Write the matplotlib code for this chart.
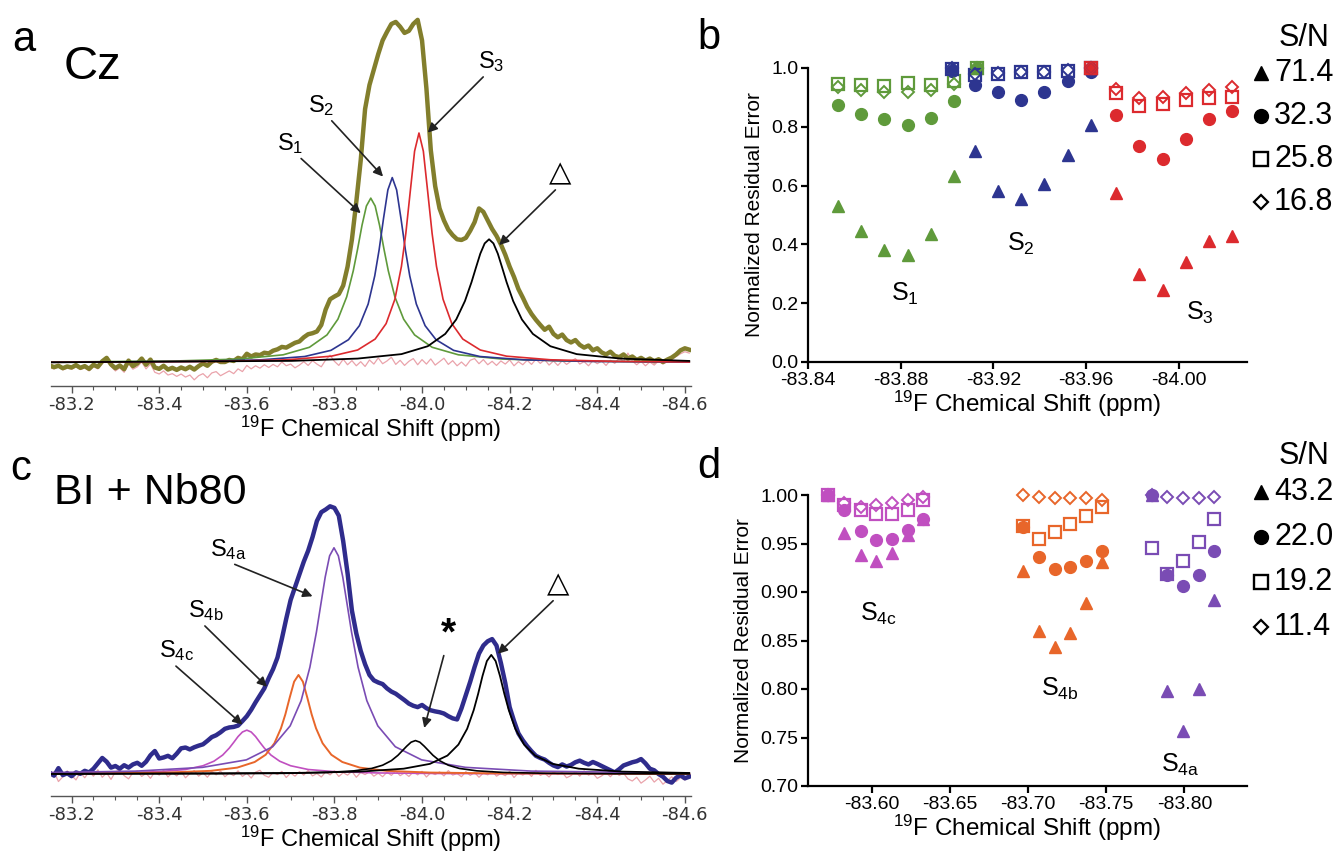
import numpy as np
import matplotlib
matplotlib.use('Agg')
import matplotlib.pyplot as plt
from matplotlib.lines import Line2D

plt.rcParams['font.family'] = ['Liberation Sans', 'DejaVu Sans']
plt.rcParams['mathtext.fontset'] = 'custom'
plt.rcParams['mathtext.rm'] = 'Liberation Sans'
plt.rcParams['mathtext.it'] = 'Liberation Sans:italic'
plt.rcParams['mathtext.bf'] = 'Liberation Sans:bold'

# ---------------- spectra (panels a, c): sampled every 0.01 ppm ----------------
ppm_start, ppm_end, n_pts = -83.15, -84.61, 147

cz_exp = [
    -0.8, -1.3, -0.9, -1.6, -1.1, -1.4, -0.7, -1.5, -1.0, -1.8,
    -0.6, -1.2, 0.4, 1.4, -0.5, -1.6, -0.8, -1.9, 0.6, -1.0,
    -0.2, 1.2, -0.6, 0.9, -1.4, -1.8, -0.9, -2.0, -1.5, -2.1,
    -1.4, -1.9, -1.2, -2.0, -1.0, -0.2, -0.9, 0.3, 0.8, 0.2,
    0.2, 0.8, 0.5, 1.4, 1.0, 2.6, 1.8, 2.4, 2.2, 2.9,
    2.7, 3.5, 3.9, 4.6, 4.4, 5.1, 5.8, 6.2, 7.4, 8.3,
    8.6, 9.1, 11.0, 15.5, 18.5, 19.3, 20.0, 22.5, 28.0, 36.0,
    47.0, 59.0, 74.0, 81.0, 85.5, 90.0, 94.0, 96.5, 98.8, 99.4,
    98.0, 96.2, 96.8, 98.8, 100.0, 94.0, 80.0, 62.0, 51.5, 45.0,
    41.5, 38.8, 37.2, 36.0, 35.8, 36.4, 38.5, 41.0, 45.0, 44.0,
    41.5, 39.0, 37.0, 34.5, 31.5, 28.0, 25.0, 21.5, 19.0, 16.3,
    14.2, 12.5, 11.0, 9.6, 10.5, 8.4, 7.4, 8.2, 6.6, 5.9,
    6.6, 5.2, 4.4, 5.0, 3.6, 4.2, 3.0, 2.4, 3.2, 2.0,
    1.6, 2.4, 1.2, 1.8, 0.8, 1.4, 0.6, 1.2, 0.4, 1.0,
    0.2, 0.9, 1.5, 2.4, 3.6, 4.2, 3.8]

cz_resid = [
    -1.5, -1.8, -1.2, -2.1, -1.6, -1.9, -1.2, -2.0, -1.5, -2.4,
    -1.1, -1.8, -0.2, 0.8, -1.1, -2.4, -1.5, -2.8, -0.3, -1.9,
    -1.2, 0.2, -1.8, -0.4, -2.8, -3.3, -2.4, -3.6, -3.2, -4.0,
    -3.3, -4.2, -3.6, -5.0, -3.8, -3.2, -4.4, -3.0, -2.6, -3.8,
    -3.1, -2.4, -3.2, -1.8, -2.6, -0.8, -1.8, -0.9, -1.6, -0.6,
    -1.4, -0.5, -1.2, 0.2, -0.9, -0.4, -1.5, -0.7, 0.3, -0.8,
    0.6, -0.4, -1.2, 0.8, 2.2, 0.4, -0.8, 1.0, -0.6, 0.6,
    -0.9, 0.3, -1.1, 0.8, -0.4, 1.4, -0.3, 0.5, 1.6, -0.5,
    0.7, -0.8, 0.4, 1.2, -0.6, 0.9, -0.4, 1.1, -0.7, 0.3,
    1.3, -0.5, 0.6, -0.9, 0.2, -1.0, 0.7, 1.2, -0.3, 0.9,
    -0.6, 0.4, -0.8, 0.5, -0.4, 0.8, -0.9, 0.3, -0.6, 0.7,
    -0.5, 1.0, -0.2, 0.9, -0.7, 0.5, -0.8, 0.6, -0.5, 0.4,
    1.2, -0.4, 0.3, -0.9, 0.6, -0.3, 0.5, -0.8, 0.7, -0.2,
    1.4, 0.3, 2.8, 0.5, -0.6, 0.4, -0.9, 0.2, -0.7, 0.5,
    -0.4, 0.3, 0.9, 1.8, 2.6, 3.2, 2.8]

bi_exp = [
    0.5, -0.6, 2.2, -0.4, 0.3, -0.8, 0.6, 0.1, 1.2, 0.6,
    2.0, 4.0, 6.0, 4.6, 2.4, 3.0, 2.0, 3.3, 2.4, 3.6,
    4.2, 3.1, 4.6, 7.0, 8.6, 5.8, 6.2, 6.8, 5.9, 7.6,
    9.6, 9.9, 9.2, 10.0, 10.6, 11.1, 12.4, 13.8, 14.5, 15.6,
    16.9, 17.4, 17.6, 18.1, 19.8, 21.6, 24.0, 26.8, 29.4, 32.0,
    35.8, 39.2, 43.5, 50.5, 58.0, 65.0, 69.8, 74.5, 79.3, 83.4,
    88.5, 94.5, 97.8, 98.8, 100.0, 99.4, 96.5, 87.0, 75.0, 61.0,
    52.5, 46.0, 41.0, 37.0, 35.0, 34.2, 33.6, 32.0, 30.8, 30.0,
    28.8, 27.6, 26.3, 25.5, 25.0, 25.8, 24.6, 23.8, 23.4, 23.1,
    22.6, 21.6, 20.8, 20.4, 24.5, 29.5, 34.5, 40.0, 45.0, 48.0,
    49.6, 50.4, 48.0, 41.5, 34.0, 25.0, 19.8, 15.2, 12.6, 10.4,
    8.5, 6.8, 6.0, 5.4, 4.2, 3.2, 2.6, 3.6, 2.8, 3.4,
    4.4, 5.0, 4.2, 3.6, 4.5, 3.8, 3.0, 2.2, 1.4, 0.6,
    1.8, 3.2, 3.8, 4.4, 4.8, 5.6, 4.0, 2.0, 1.4, 0.0,
    -1.0, -2.6, -3.2, -1.4, -0.4, -1.6, -1.0]

bi_resid = [
    -1.5, 0.8, -2.8, -1.0, 1.2, -0.5, -2.2, 0.6, -1.4, 0.9,
    -0.8, 1.6, -1.2, 0.4, -2.0, 0.8, 1.5, -0.6, -1.8, 0.5,
    1.2, -0.9, 0.3, -1.6, 0.8, -0.4, 1.4, -1.1, 0.6, -0.7,
    1.0, -1.4, 0.2, 1.3, -0.8, 0.5, -1.2, 0.9, -0.3, 1.1,
    -1.0, 0.4, -0.6, 1.2, -0.9, 0.3, -1.5, 0.7, 1.4, -0.5,
    -1.2, 0.6, -0.2, 1.0, -1.3, 0.4, -0.8, 0.9, -0.4, 1.3,
    -0.7, 0.2, -1.1, 0.8, -0.3, 1.2, -0.9, 0.5, -0.4, 1.0,
    -1.2, 0.6, -0.2, 0.9, -0.8, 0.3, -1.0, 0.7, -0.5, 1.1,
    -0.6, 0.4, -0.9, 0.8, -0.3, 1.0, -1.1, 0.5, -0.2, 0.8,
    -0.7, 1.3, -0.4, 0.2, -1.0, 0.9, -0.5, 0.6, -1.2, 0.4,
    -0.3, 1.1, -0.8, 0.2, -0.6, 1.0, -1.3, 0.5, -0.4, 0.7,
    -0.9, 1.4, -0.5, 0.3, -1.1, 0.8, -0.2, 0.6, -1.4, -0.6,
    0.9, -0.8, 1.2, -0.4, 0.3, -1.6, -0.7, 0.5, -1.0, 0.8,
    -0.5, 0.3, -1.8, -2.6, -1.2, -3.4, -2.2, -0.8, -3.0, -1.6,
    -3.8, -2.4, -1.0, -2.8, -1.4, -2.2, -1.0]

# fitted components (read at chosen ppm positions)
s1_x = [-83.15, -83.433, -83.583, -83.683, -83.743, -83.783, -83.808, -83.828, -83.843, -83.853, -83.863, -83.873,
        -83.883, -83.893, -83.903, -83.913, -83.923, -83.938, -83.958, -83.983, -84.023, -84.083, -84.183, -84.333, -84.61]
s1_y = [0.18, 0.48, 1.06, 2.3, 4.5, 8.1, 12.7, 19.2, 26.8, 33.2, 40.1, 45.7,
        48.0, 45.7, 40.1, 33.2, 26.8, 19.2, 12.7, 8.1, 4.5, 2.3, 1.06, 0.48, 0.18]
s2_x = [-83.15, -83.482, -83.632, -83.732, -83.792, -83.832, -83.857, -83.877, -83.892, -83.902, -83.912, -83.922,
        -83.932, -83.942, -83.952, -83.962, -83.972, -83.987, -84.007, -84.032, -84.072, -84.132, -84.232, -84.382, -84.61]
s2_y = [0.12, 0.37, 0.83, 1.8, 3.6, 6.7, 10.8, 17.1, 25.3, 32.9, 42.0, 50.4,
        54.0, 50.4, 42.0, 32.9, 25.3, 17.1, 10.8, 6.7, 3.6, 1.8, 0.83, 0.37, 0.16]
s3_x = [-83.15, -83.543, -83.693, -83.793, -83.853, -83.893, -83.918, -83.938, -83.953, -83.963, -83.973, -83.983,
        -83.993, -84.003, -84.013, -84.023, -84.033, -84.048, -84.068, -84.093, -84.133, -84.193, -84.293, -84.443, -84.61]
s3_y = [0.11, 0.38, 0.85, 1.9, 3.7, 6.9, 11.4, 18.5, 28.1, 37.7, 49.8, 61.7,
        67.0, 61.7, 49.8, 37.7, 28.1, 18.5, 11.4, 6.9, 3.7, 1.9, 0.85, 0.38, 0.2]
da_x = [-83.15, -83.703, -83.853, -83.953, -84.013, -84.053, -84.078, -84.098, -84.113, -84.123, -84.133, -84.143,
        -84.153, -84.163, -84.173, -84.183, -84.193, -84.208, -84.228, -84.253, -84.293, -84.353, -84.453, -84.61]
da_y = [0.11, 0.53, 1.2, 2.5, 4.8, 8.4, 12.6, 18.0, 23.5, 27.7, 31.8, 34.8,
        36.0, 34.8, 31.8, 27.7, 23.5, 18.0, 12.6, 8.4, 4.8, 2.5, 1.2, 0.51]

s4a_x = [-83.15, -83.349, -83.499, -83.599, -83.659, -83.699, -83.724, -83.744, -83.759, -83.769, -83.779, -83.789,
         -83.799, -83.809, -83.819, -83.829, -83.839, -83.854, -83.874, -83.899, -83.939, -83.999, -84.099, -84.249, -84.61]
s4a_y = [0.54, 1.1, 2.5, 5.3, 10.2, 18.0, 27.4, 39.9, 53.1, 63.4, 73.6, 81.5,
         84.5, 81.5, 73.6, 63.4, 53.1, 39.9, 27.4, 18.0, 10.2, 5.3, 2.5, 1.1, 0.35]
s4b_x = [-83.15, -83.268, -83.418, -83.518, -83.578, -83.618, -83.643, -83.663, -83.678, -83.688, -83.698, -83.708,
         -83.718, -83.728, -83.738, -83.748, -83.758, -83.773, -83.793, -83.818, -83.858, -83.918, -84.018, -84.168, -84.61]
s4b_y = [0.16, 0.25, 0.55, 1.2, 2.4, 4.5, 7.2, 11.5, 17.1, 22.3, 28.6, 34.5,
         37.0, 34.5, 28.6, 22.3, 17.1, 11.5, 7.2, 4.5, 2.4, 1.2, 0.55, 0.25, 0.06]
s4c_x = [-83.15, -83.30, -83.40, -83.46, -83.50, -83.525, -83.545, -83.56, -83.57, -83.58, -83.59,
         -83.60, -83.61, -83.62, -83.63, -83.64, -83.655, -83.675, -83.70, -83.74, -83.80, -83.90, -84.05, -84.61]
s4c_y = [0.19, 0.41, 0.9, 1.7, 3.1, 4.8, 7.1, 9.7, 11.8, 14.0, 15.7,
         16.4, 15.7, 14.0, 11.8, 9.7, 7.1, 4.8, 3.1, 1.7, 0.9, 0.41, 0.19, 0.04]
star_x = [-83.15, -83.535, -83.685, -83.785, -83.845, -83.885, -83.91, -83.93, -83.945, -83.955, -83.965, -83.975,
          -83.985, -83.995, -84.005, -84.015, -84.025, -84.04, -84.06, -84.085, -84.125, -84.185, -84.285, -84.435, -84.61]
star_y = [0.04, 0.12, 0.27, 0.6, 1.2, 2.1, 3.3, 5.0, 7.0, 8.7, 10.4, 11.9,
          12.5, 11.9, 10.4, 8.7, 7.0, 5.0, 3.3, 2.1, 1.2, 0.6, 0.27, 0.12, 0.06]
dc_x = [-83.15, -83.708, -83.858, -83.958, -84.018, -84.058, -84.083, -84.103, -84.118, -84.128, -84.138, -84.148,
        -84.158, -84.168, -84.178, -84.188, -84.198, -84.213, -84.233, -84.258, -84.298, -84.358, -84.458, -84.61]
dc_y = [0.08, 0.4, 0.9, 2.0, 3.8, 6.9, 11.0, 16.9, 23.9, 29.9, 36.6, 42.2,
        44.5, 42.2, 36.6, 29.9, 23.9, 16.9, 11.0, 6.9, 3.8, 2.0, 0.9, 0.4]

# ---------------- residual error (panel b) ----------------
snr_b = ['71.4', '32.3', '25.8', '16.8']
b_s1_x = [-83.853, -83.863, -83.873, -83.883, -83.893, -83.903, -83.913]
b_s1_tri = [0.532, 0.447, 0.381, 0.364, 0.434, 0.631, 1.0]
b_s1_cir = [0.875, 0.845, 0.826, 0.806, 0.831, 0.889, 1.0]
b_s1_sq = [0.944, 0.942, 0.940, 0.950, 0.942, 0.956, 1.0]
b_s1_dia = [0.934, 0.925, 0.917, 0.920, 0.925, 0.944, 1.0]

b_s2_x = [-83.902, -83.912, -83.922, -83.932, -83.942, -83.952, -83.962]
b_s2_tri = [1.0, 0.718, 0.582, 0.555, 0.607, 0.703, 0.807]
b_s2_cir = [0.99, 0.943, 0.917, 0.892, 0.920, 0.955, 0.985]
b_s2_sq = [0.995, 0.975, 0.980, 0.985, 0.985, 0.990, 1.0]
b_s2_dia = [1.0, 0.978, 0.982, 0.987, 0.987, 0.992, 1.0]

b_s3_x = [-83.962, -83.973, -83.983, -83.993, -84.003, -84.013, -84.023]
b_s3_tri = [1.0, 0.574, 0.299, 0.244, 0.341, 0.413, 0.429]
b_s3_cir = [1.0, 0.841, 0.733, 0.691, 0.759, 0.825, 0.855]
b_s3_sq = [1.0, 0.914, 0.870, 0.876, 0.891, 0.897, 0.902]
b_s3_dia = [1.0, 0.928, 0.898, 0.902, 0.915, 0.925, 0.936]

# ---------------- residual error (panel d) ----------------
snr_d = ['43.2', '22.0', '19.2', '11.4']
d_s4c_x = [-83.572, -83.582, -83.593, -83.603, -83.613, -83.623, -83.633]
d_s4c_tri = [1.0, 0.961, 0.938, 0.9315, 0.9405, 0.959, 0.975]
d_s4c_cir = [1.0, 0.985, 0.963, 0.954, 0.955, 0.964, 0.975]
d_s4c_sq = [1.0, 0.990, 0.985, 0.980, 0.980, 0.985, 0.995]
d_s4c_dia = [1.0, 0.992, 0.988, 0.990, 0.992, 0.995, 0.998]

d_s4b_x = [-83.697, -83.707, -83.717, -83.727, -83.737, -83.747]
d_s4b_tri = [0.9215, 0.860, 0.8435, 0.858, 0.889, 0.9307]
d_s4b_cir = [0.967, 0.9358, 0.9242, 0.9256, 0.9324, 0.942]
d_s4b_sq = [0.968, 0.955, 0.962, 0.970, 0.978, 0.988]
d_s4b_dia = [1.0, 0.998, 0.997, 0.997, 0.997, 0.995]

d_s4a_x = [-83.779, -83.789, -83.799, -83.809, -83.819]
d_s4a_tri = [1.0, 0.798, 0.757, 0.800, 0.892]
d_s4a_cir = [1.0, 0.918, 0.906, 0.918, 0.942]
d_s4a_sq = [0.945, 0.919, 0.9317, 0.952, 0.975]
d_s4a_dia = [1.0, 0.998, 0.997, 0.997, 0.998]

# ---------------- styling ----------------
C_OLIVE = '#827e2c'
C_GREEN = '#5f9a3b'
C_BLUE = '#2d3590'
C_RED = '#dc2a2e'
C_NAVY = '#2f2c8c'
C_PURPLE = '#7a4cb4'
C_ORANGE = '#e8662a'
C_MAGENTA = '#c04fc0'
C_RESID = '#eaa3ab'
TICK_FONT = ['DejaVu Sans']

fig = plt.figure(figsize=(13.4, 8.52), dpi=100)
W, H = 1340.0, 852.0


def frac(x0, y_top, x1, y_bot):
    return [x0 / W, 1 - y_bot / H, (x1 - x0) / W, (y_bot - y_top) / H]


def spectrum_axes(rect, ylim):
    ax = fig.add_axes(rect)
    ax.set_xlim(-83.153, -84.614)
    ax.set_ylim(*ylim)
    for s in ['left', 'right', 'top']:
        ax.spines[s].set_visible(False)
    ax.spines['bottom'].set_color('#555555')
    ax.spines['bottom'].set_linewidth(1.0)
    ax.set_yticks([])
    ax.set_xticks([-83.2, -83.4, -83.6, -83.8, -84.0, -84.2, -84.4, -84.6])
    ax.set_xticks(np.round(np.arange(-83.2, -84.61, -0.05), 2), minor=True)
    ax.set_xticklabels(['-83.2', '-83.4', '-83.6', '-83.8', '-84.0', '-84.2', '-84.4', '-84.6'],
                       fontsize=13, family=TICK_FONT, color='#333333')
    ax.tick_params(axis='x', which='major', length=5, width=1.0, color='#555555', pad=2)
    ax.tick_params(axis='x', which='minor', length=3, width=0.8, color='#555555')
    ax.set_xlabel('$^{19}$F Chemical Shift (ppm)', fontsize=17, labelpad=0)
    ax.patch.set_alpha(0)
    return ax


ppm = np.linspace(ppm_start, ppm_end, n_pts)

# ---- panel a ----
axa = spectrum_axes(frac(51, 0, 691, 386), (-6.8, 105.8))
axa.plot(ppm, cz_resid, color=C_RESID, lw=0.9, zorder=1)
axa.plot(ppm, cz_exp, color=C_OLIVE, lw=3.2, zorder=2, solid_joinstyle='round')
axa.plot(s1_x, s1_y, color=C_GREEN, lw=1.2, zorder=3)
axa.plot(s2_x, s2_y, color=C_BLUE, lw=1.2, zorder=3)
axa.plot(s3_x, s3_y, color=C_RED, lw=1.2, zorder=3)
axa.plot(da_x, da_y, color='black', lw=1.3, zorder=3)

arrow = dict(arrowstyle='-|>', color='#222222', lw=1.2, mutation_scale=14, shrinkA=0, shrinkB=0)
axa.annotate('S$_{\\mathrm{1}}$', xy=(-83.860, 43.6), xytext=(-83.699, 64.0), fontsize=17,
             ha='center', va='center', arrowprops=dict(arrow, relpos=(0.8, 0.0)))
axa.annotate('S$_{\\mathrm{2}}$', xy=(-83.911, 54.3), xytext=(-83.770, 75.0), fontsize=17,
             ha='center', va='center', arrowprops=dict(arrow, relpos=(0.8, 0.0)))
axa.annotate('S$_{\\mathrm{3}}$', xy=(-84.013, 67.1), xytext=(-84.158, 87.8), fontsize=17,
             ha='center', va='center', arrowprops=dict(arrow, relpos=(0.3, 0.0)))
axa.annotate('\u25B3', xy=(-84.176, 34.3), xytext=(-84.316, 55.3), fontsize=21,
             family=['DejaVu Sans'], ha='center', va='center', arrowprops=dict(arrow, relpos=(0.4, 0.0)))

# ---- panel c ----
axc = spectrum_axes(frac(51, 430, 691, 796), (-8.2, 128.5))
axc.plot(ppm, bi_resid, color=C_RESID, lw=0.9, zorder=1)
axc.plot(ppm, bi_exp, color=C_NAVY, lw=3.2, zorder=2, solid_joinstyle='round')
axc.plot(s4c_x, s4c_y, color=C_MAGENTA, lw=1.2, zorder=3)
axc.plot(s4b_x, s4b_y, color=C_ORANGE, lw=1.4, zorder=3)
axc.plot(s4a_x, s4a_y, color=C_PURPLE, lw=1.2, zorder=3)
axc.plot(star_x, star_y, color='black', lw=1.2, zorder=3)
axc.plot(dc_x, dc_y, color='black', lw=1.3, zorder=3)

axc.annotate('S$_{\\mathrm{4a}}$', xy=(-83.750, 66.4), xytext=(-83.557, 84.0), fontsize=17,
             ha='center', va='center', arrowprops=dict(arrow, relpos=(0.5, 0.0)))
axc.annotate('S$_{\\mathrm{4b}}$', xy=(-83.646, 32.6), xytext=(-83.506, 61.0), fontsize=17,
             ha='center', va='center', arrowprops=dict(arrow, relpos=(0.4, 0.0)))
axc.annotate('S$_{\\mathrm{4c}}$', xy=(-83.590, 18.5), xytext=(-83.439, 46.0), fontsize=17,
             ha='center', va='center', arrowprops=dict(arrow, relpos=(0.4, 0.0)))
axc.annotate('*', xy=(-84.005, 17.2), xytext=(-84.061, 52.0), fontsize=28, fontweight='bold',
             ha='center', va='center', arrowprops=dict(arrow, relpos=(0.35, 0.2)))
axc.annotate('\u25B3', xy=(-84.173, 44.9), xytext=(-84.311, 71.0), fontsize=21,
             family=['DejaVu Sans'], ha='center', va='center', arrowprops=dict(arrow, relpos=(0.4, 0.0)))

# ---- panel letters / titles ----
fig.text(24 / W, 1 - 40 / H, 'a', fontsize=30, ha='center', va='center')
fig.text(93 / W, 1 - 67 / H, 'Cz', fontsize=34, ha='center', va='center')
fig.text(709 / W, 1 - 38 / H, 'b', fontsize=30, ha='center', va='center')
fig.text(21 / W, 1 - 469 / H, 'c', fontsize=30, ha='center', va='center')
fig.text(150 / W, 1 - 493 / H, 'BI + Nb80', fontsize=31, ha='center', va='center')
fig.text(709 / W, 1 - 467 / H, 'd', fontsize=30, ha='center', va='center')


def error_axes(rect, xlim, ylim, xticks, xticklabels, yticks, yticklabels):
    ax = fig.add_axes(rect)
    ax.set_xlim(*xlim)
    ax.set_ylim(*ylim)
    for s in ['right', 'top']:
        ax.spines[s].set_visible(False)
    for s in ['left', 'bottom']:
        ax.spines[s].set_linewidth(1.6)
    ax.set_xticks(xticks)
    ax.set_xticklabels(xticklabels, fontsize=14)
    ax.set_yticks(yticks)
    ax.set_yticklabels(yticklabels, fontsize=14)
    ax.tick_params(length=5, width=1.6, pad=2)
    ax.set_xlabel('$^{19}$F Chemical Shift (ppm)', fontsize=17.5, labelpad=0)
    ax.set_ylabel('Normalized Residual Error', fontsize=15, labelpad=5)
    ax.patch.set_alpha(0)
    return ax


def draw_series(ax, x, tri, cir, sq, dia, color):
    ax.plot(x, tri, ls='none', marker='^', ms=8.5, color=color, mec=color, clip_on=False, zorder=3)
    ax.plot(x, cir, ls='none', marker='o', ms=8.5, color=color, mec=color, clip_on=False, zorder=3)
    ax.plot(x, sq, ls='none', marker='s', ms=9, mfc='none', mec=color, mew=1.6, clip_on=False, zorder=4)
    ax.plot(x, dia, ls='none', marker='D', ms=6, mfc='none', mec=color, mew=1.4, clip_on=False, zorder=5)


def sn_legend(labels, title_y, row_ys):
    # marker column at x = 1262 px, labels start at x = 1274 px (figure pixels)
    fig.text(1329 / W, 1 - title_y / H, 'S/N', fontsize=22, ha='right', va='center')
    styles = [dict(marker='^', ms=10, color='black'),
              dict(marker='o', ms=10, color='black'),
              dict(marker='s', ms=10.5, mfc='none', mec='black', mew=1.7),
              dict(marker='D', ms=7.5, mfc='none', mec='black', mew=1.6)]
    for lab, yy, st in zip(labels, row_ys, styles):
        fig.add_artist(Line2D([1261 / W], [1 - yy / H], ls='none', transform=fig.transFigure, **st))
        fig.text(1274 / W, 1 - yy / H, lab, fontsize=22, ha='left', va='center')


# ---- panel b ----
axb = error_axes(frac(808, 68, 1247, 362), (-83.84, -84.0294), (0.0, 1.0),
                 [-83.84, -83.88, -83.92, -83.96, -84.00],
                 ['-83.84', '-83.88', '-83.92', '-83.96', '-84.00'],
                 [0.0, 0.2, 0.4, 0.6, 0.8, 1.0], ['0.0', '0.2', '0.4', '0.6', '0.8', '1.0'])
draw_series(axb, b_s1_x, b_s1_tri, b_s1_cir, b_s1_sq, b_s1_dia, C_GREEN)
draw_series(axb, b_s2_x, b_s2_tri, b_s2_cir, b_s2_sq, b_s2_dia, C_BLUE)
draw_series(axb, b_s3_x, b_s3_tri, b_s3_cir, b_s3_sq, b_s3_dia, C_RED)
axb.text(-83.882, 0.233, 'S$_{\\mathrm{1}}$', fontsize=18, ha='center', va='center')
axb.text(-83.932, 0.403, 'S$_{\\mathrm{2}}$', fontsize=18, ha='center', va='center')
axb.text(-84.009, 0.167, 'S$_{\\mathrm{3}}$', fontsize=18, ha='center', va='center')
sn_legend(snr_b, 38, [73, 116, 159, 202])

# ---- panel d ----
axd = error_axes(frac(808, 495, 1247, 786), (-83.5592, -83.840), (0.70, 1.00),
                 [-83.60, -83.65, -83.70, -83.75, -83.80],
                 ['-83.60', '-83.65', '-83.70', '-83.75', '-83.80'],
                 [0.70, 0.75, 0.80, 0.85, 0.90, 0.95, 1.00],
                 ['0.70', '0.75', '0.80', '0.85', '0.90', '0.95', '1.00'])
draw_series(axd, d_s4c_x, d_s4c_tri, d_s4c_cir, d_s4c_sq, d_s4c_dia, C_MAGENTA)
draw_series(axd, d_s4b_x, d_s4b_tri, d_s4b_cir, d_s4b_sq, d_s4b_dia, C_ORANGE)
draw_series(axd, d_s4a_x, d_s4a_tri, d_s4a_cir, d_s4a_sq, d_s4a_dia, C_PURPLE)
axd.text(-83.604, 0.877, 'S$_{\\mathrm{4c}}$', fontsize=18, ha='center', va='center')
axd.text(-83.720, 0.800, 'S$_{\\mathrm{4b}}$', fontsize=18, ha='center', va='center')
axd.text(-83.797, 0.7215, 'S$_{\\mathrm{4a}}$', fontsize=18, ha='center', va='center')
sn_legend(snr_d, 456, [492, 537, 582, 627])

fig.savefig('out.png', dpi=100)
